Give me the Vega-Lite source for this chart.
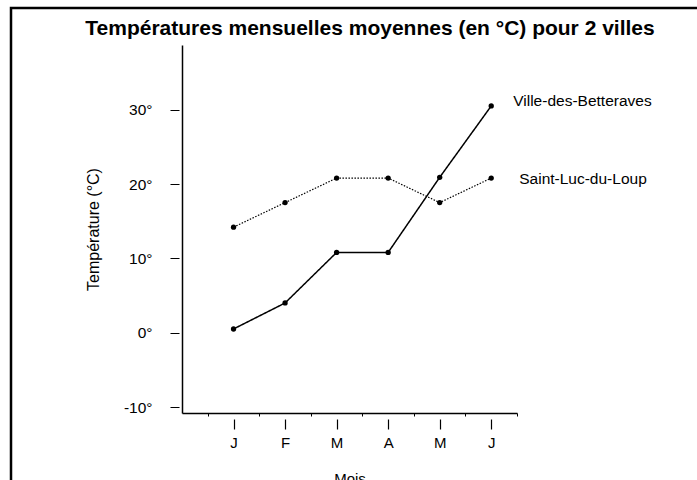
{
  "$schema": "https://vega.github.io/schema/vega-lite/v6.json",
  "autosize": "none",
  "padding": {"left": 11, "top": 8, "right": -6, "bottom": -6},
  "width": 692,
  "height": 478,
  "background": "white",
  "config": {
    "font": "Liberation Sans",
    "view": {"stroke": "black", "strokeWidth": 2.5},
    "axis": {"grid": false, "domainColor": "black", "tickColor": "black", "labelColor": "black", "titleColor": "black", "labelFont": "Liberation Sans", "titleFont": "Liberation Sans", "titleFontWeight": "normal"}
  },
  "title": {
    "text": "Températures mensuelles moyennes (en °C) pour 2 villes",
    "font": "Liberation Sans",
    "fontSize": 21,
    "fontWeight": "bold",
    "color": "black",
    "anchor": "middle",
    "frame": "group",
    "offset": -31,
    "dx": 13
  },
  "data": {
    "values": [
      {"m": 1, "mois": "J", "ville": "Ville-des-Betteraves", "temp": 0.5},
      {"m": 2, "mois": "F", "ville": "Ville-des-Betteraves", "temp": 4.0},
      {"m": 3, "mois": "M", "ville": "Ville-des-Betteraves", "temp": 10.8},
      {"m": 4, "mois": "A", "ville": "Ville-des-Betteraves", "temp": 10.8},
      {"m": 5, "mois": "M", "ville": "Ville-des-Betteraves", "temp": 20.9},
      {"m": 6, "mois": "J", "ville": "Ville-des-Betteraves", "temp": 30.5},
      {"m": 1, "mois": "J", "ville": "Saint-Luc-du-Loup", "temp": 14.2},
      {"m": 2, "mois": "F", "ville": "Saint-Luc-du-Loup", "temp": 17.5},
      {"m": 3, "mois": "M", "ville": "Saint-Luc-du-Loup", "temp": 20.8},
      {"m": 4, "mois": "A", "ville": "Saint-Luc-du-Loup", "temp": 20.8},
      {"m": 5, "mois": "M", "ville": "Saint-Luc-du-Loup", "temp": 17.5},
      {"m": 6, "mois": "J", "ville": "Saint-Luc-du-Loup", "temp": 20.8}
    ]
  },
  "encoding": {
    "y": {
      "field": "temp",
      "type": "quantitative",
      "scale": {"domain": [-10.8, 38.7], "range": [405, 37], "zero": false, "nice": false},
      "axis": {
        "title": "Température (°C)",
        "titleFontSize": 16,
        "titlePadding": 22,
        "offset": -171,
        "values": [-10, 0, 10, 20, 30],
        "tickSize": 12,
        "tickWidth": 1.2,
        "tickDash": [0, 3, 9, 100],
        "labelExpr": "datum.value + '°'",
        "labelFontSize": 15.5,
        "labelPadding": 18,
        "domainWidth": 1.5
      }
    }
  },
  "resolve": {"axis": {"x": "independent"}},
  "layer": [
    {
      "mark": {"type": "line", "color": "black"},
      "encoding": {
        "x": {
          "field": "m",
          "type": "quantitative",
          "scale": {"domain": [0, 6.5], "range": [171, 506], "zero": false, "nice": false},
          "axis": {
            "orient": "bottom",
            "title": null,
            "offset": -73,
            "values": [0.5, 1.5, 2.5, 3.5, 4.5, 5.5, 6.5],
            "tickSize": 3,
            "tickWidth": 1,
            "labels": false,
            "domainWidth": 1.5
          }
        },
        "detail": {"field": "ville"},
        "strokeDash": {"field": "ville", "type": "nominal", "scale": {"domain": ["Ville-des-Betteraves", "Saint-Luc-du-Loup"], "range": [[1, 0], [1.5, 1.5]]}, "legend": null},
        "strokeWidth": {"field": "ville", "type": "nominal", "scale": {"domain": ["Ville-des-Betteraves", "Saint-Luc-du-Loup"], "range": [1.5, 1.2]}, "legend": null}
      }
    },
    {
      "mark": {"type": "point", "filled": true, "color": "black", "opacity": 1, "size": 28},
      "encoding": {
        "x": {
          "field": "m",
          "type": "quantitative",
          "axis": {
            "orient": "bottom",
            "title": "Mois",
            "titleFontSize": 15,
            "titlePadding": 21,
            "offset": -67,
            "domain": false,
            "values": [1, 2, 3, 4, 5, 6],
            "tickSize": 10,
            "tickWidth": 1.2,
            "labelExpr": "['', 'J', 'F', 'M', 'A', 'M', 'J'][datum.value]",
            "labelFontSize": 15,
            "labelPadding": 6
          }
        }
      }
    },
    {
      "transform": [{"filter": "datum.m === 6 && datum.ville === 'Ville-des-Betteraves'"}],
      "mark": {"type": "text", "align": "left", "baseline": "middle", "dx": 22, "dy": -5, "fontSize": 15.5, "color": "black"},
      "encoding": {"x": {"field": "m", "type": "quantitative", "axis": null}, "text": {"field": "ville"}}
    },
    {
      "transform": [{"filter": "datum.m === 6 && datum.ville === 'Saint-Luc-du-Loup'"}],
      "mark": {"type": "text", "align": "left", "baseline": "middle", "dx": 28, "dy": 1, "fontSize": 15.5, "color": "black"},
      "encoding": {"x": {"field": "m", "type": "quantitative", "axis": null}, "text": {"field": "ville"}}
    }
  ]
}
